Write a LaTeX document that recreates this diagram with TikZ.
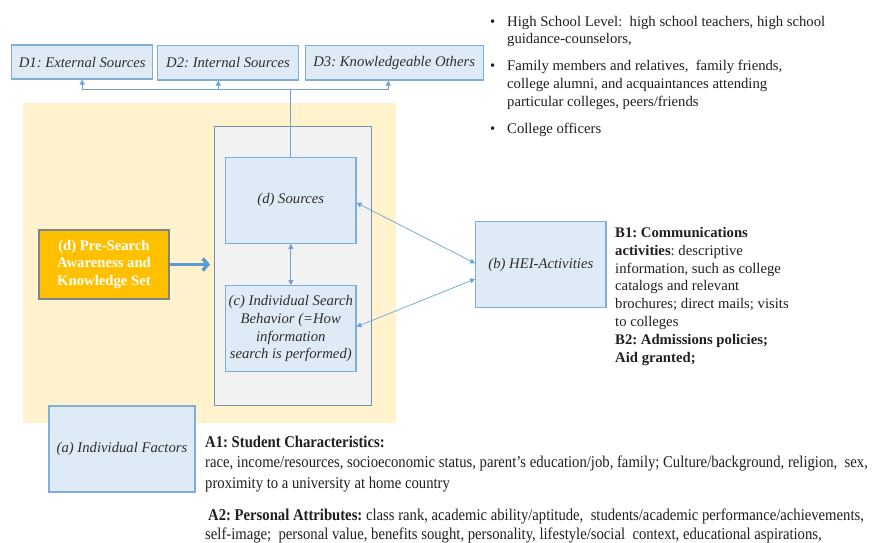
\documentclass[tikz,border=0pt]{standalone}
\usepackage{fontspec}
\setmainfont{Liberation Serif}
\newfontfamily\condfont[FakeStretch=0.89]{Liberation Serif}
\usetikzlibrary{arrows.meta}
\definecolor{boxfill}{HTML}{DEEBF7}
\definecolor{boxdraw}{HTML}{7FAEDB}
\definecolor{linec}{HTML}{6FA3D6}
\definecolor{ybg}{HTML}{FFF2CC}
\definecolor{grayfill}{HTML}{F2F2F2}
\definecolor{graydraw}{HTML}{7891B3}
\definecolor{orangefill}{HTML}{FFC000}
\definecolor{orangedraw}{HTML}{7A8590}
\definecolor{thickarrow}{HTML}{5B9BD5}
\definecolor{txtc}{HTML}{1F1F1F}
\definecolor{labc}{HTML}{2E2E2E}
\frenchspacing
\begin{document}
\begin{tikzpicture}[x=1pt,y=-1pt,
  bluebox/.style={draw=boxdraw, fill=boxfill, line width=1.1pt, inner sep=0pt, align=center,
    font=\fontsize{14.7}{17.8}\selectfont\itshape, text=labc},
  conn/.style={draw=linec, line width=0.7pt},
  tip/.style={-{Triangle[length=5pt,width=5pt]}},
  dtip/.style={{Triangle[length=5pt,width=5pt]}-{Triangle[length=5pt,width=5pt]}},
  txt/.style={anchor=base west, inner sep=0pt, font=\fontsize{14.7}{17.8}\selectfont, text=txtc},
  ctxt/.style={anchor=base west, inner sep=0pt, font=\condfont\fontsize{16.5}{21}\selectfont, text=txtc},
]
\useasboundingbox (0,0) rectangle (875,542);
\fill[white] (0,0) rectangle (875,542);

% background regions
\fill[ybg] (22.7,103.3) rectangle (396,423.3);
\node[draw=graydraw, fill=grayfill, line width=1.1pt, minimum width=157pt, minimum height=278.3pt, inner sep=0pt]
  (grp) at (293.2,265.9) {};

% top boxes
\node[bluebox, minimum width=141pt, minimum height=34pt] (D1) at (82.2,62) {D1: External Sources};
\node[bluebox, minimum width=140.6pt, minimum height=34.3pt] (D2) at (228,62.8) {D2: Internal Sources};
\node[bluebox, minimum width=178.3pt, minimum height=34.3pt] (D3) at (394.2,62.8) {D3: Knowledgeable Others};

% inner boxes
\node[bluebox, minimum width=130.3pt, minimum height=86pt] (src) at (290.8,200.3) {(d) Sources};
\node[bluebox, minimum width=130.3pt, minimum height=86pt] (cbox) at (290.8,328.7)
  {(c) Individual Search\\Behavior (=How\\information\\search is performed)};
\node[draw=orangedraw, fill=orangefill, line width=1.1pt, minimum width=130pt, minimum height=69pt,
  inner sep=0pt, align=center, text=white, font=\fontsize{14.7}{17.8}\selectfont\bfseries]
  (pre) at (104,264.5) {(d) Pre-Search\\Awareness and\\Knowledge Set};
\node[bluebox, minimum width=130.3pt, minimum height=85.6pt] (hei) at (540.8,264.5) {(b) HEI-Activities};
\node[bluebox, minimum width=146pt, minimum height=86pt] (ind) at (122,449) {(a) Individual Factors};

% connectors
\coordinate (j) at (290.8,89.3);
\draw[conn] (src.north) -- (j);
\draw[conn,tip] (j) -| (D1.south);
\draw[conn,tip] (j) -| ([xshift=-9.7pt]D2.south);
\draw[conn,tip] (j) -| ([xshift=-5.9pt]D3.south);
\draw[conn,dtip] (src.south) -- (cbox.north);
\draw[conn,dtip] ([yshift=-2.4pt]src.east) -- ([yshift=1.2pt]hei.west);
\draw[conn,dtip] ([yshift=2pt]cbox.east) -- ([yshift=-14.5pt]hei.west);
\coordinate (thk) at (210,264.5);
\draw[draw=thickarrow, line width=3.5pt, -{Straight Barb[length=5pt,width=12pt]}] (pre.east) -- (thk);

% bullet list
\foreach \yy in {26,70.5,133} \node[txt] at (490,\yy) {\textbullet};
\node[txt] at (507,26) {High School Level:\ \ high school teachers, high school};
\node[txt] at (507,43.8) {guidance-counselors,};
\node[txt] at (507,70.5) {Family members and relatives,\ \ family friends,};
\node[txt] at (507,88.3) {college alumni, and acquaintances attending};
\node[txt] at (507,106.1) {particular colleges, peers/friends};
\node[txt] at (507,133) {College officers};

% B text
\foreach \t [count=\i] in {{\textbf{B1: Communications}},{\textbf{activities}: descriptive},
  {information, such as college},{catalogs and relevant},{brochures; direct mails; visits},
  {to colleges},{\textbf{B2: Admissions policies;}},{\textbf{Aid granted;}}}
  \node[txt] at (615,237.5+17.8*\i-17.8) {\t};

% A text
\node[ctxt] at (205,447) {\textbf{A1: Student Characteristics:}};
\node[ctxt] at (205,467.7) {race, income/resources, socioeconomic status, parent’s education/job, family; Culture/background, religion,\ \ sex,};
\node[ctxt] at (205,488.4) {proximity to a university at home country};
\node[ctxt] at (208,520) {\textbf{A2: Personal Attributes:} class rank, academic ability/aptitude,\ \ students/academic performance/achievements,};
\node[ctxt] at (205,539.5) {self-image;\ \ personal value, benefits sought, personality, lifestyle/social\ \ context, educational aspirations,};
\end{tikzpicture}
\end{document}
